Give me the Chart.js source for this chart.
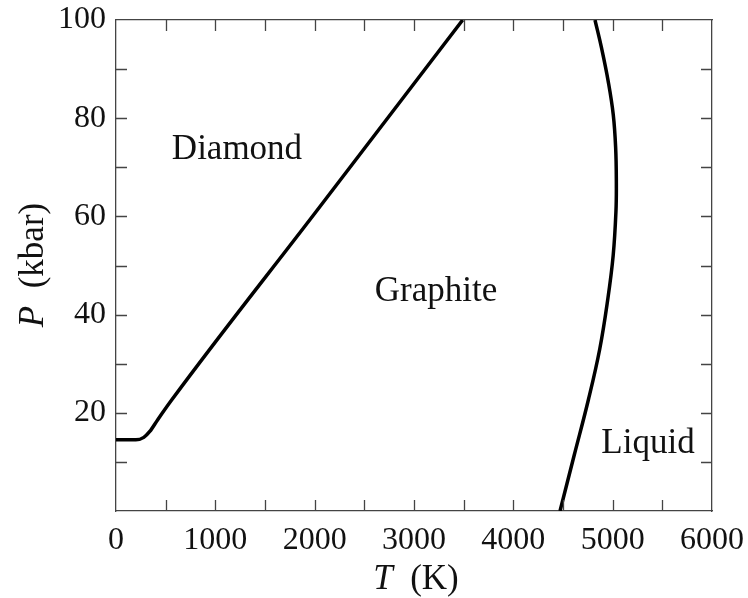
<!DOCTYPE html>
<html>
<head>
<meta charset="utf-8">
<script src="https://cdn.jsdelivr.net/npm/chart.js@4/dist/chart.umd.min.js"></script>
<style>
  html, body { margin: 0; padding: 0; background: #fff; }
  #wrap { width: 748px; height: 598px; }
</style>
</head>
<body>
<div id="wrap"><canvas id="phaseChart" width="748" height="598"></canvas></div>
<script>
// diamond / graphite boundary
const diamondT = [0, 200, 280, 340, 420, 560, 2000, 3490];
const diamondP = [14.5, 14.5, 15, 16.2, 18.6, 22.6, 60.6, 100];

// graphite / liquid boundary
const liquidT = [4470, 4612, 4755, 4870, 4950, 5005, 5033, 5037, 5030, 5006, 4956, 4889, 4822];
const liquidP = [0, 11.3, 22.6, 33, 43, 52, 61, 67, 74, 80.7, 87.4, 94.2, 100];

const xTicks = [0, 1000, 2000, 3000, 4000, 5000, 6000];
const yTicks = [20, 40, 60, 80, 100];

// region labels [text, T, P]
const regions = [
    ['Diamond', 1218, 73.5],
    ['Graphite', 3221, 44.6],
    ['Liquid', 5356, 13.7]
];

const serif = '"Liberation Serif", "Times New Roman", serif';
const ink = '#111';
const axisColor = '#444';

const toPoints = (xs, ys) => xs.map((x, i) => ({x: x, y: ys[i]}));

// kill the extra room chart.js keeps for overhanging tick labels
const fixSize = (w, h) => s => {
    if (w !== null) s.width = w;
    if (h !== null) s.height = h;
    s.paddingLeft = 0; s.paddingRight = 0;
    s.paddingTop = 0; s.paddingBottom = 0;
};

const decor = {
    id: 'decor',
    afterDraw(chart) {
        const ctx = chart.ctx;
        const a = chart.chartArea;
        const xs = chart.scales.x, ys = chart.scales.y;
        ctx.save();
        // inward ticks on all four sides
        ctx.strokeStyle = axisColor;
        ctx.lineWidth = 1.3;
        const tl = 11;
        ctx.beginPath();
        xs.ticks.forEach(t => {
            const px = Math.round(xs.getPixelForValue(t.value)) + 0.5;
            if (t.value <= 0 || t.value >= 6000) return;
            ctx.moveTo(px, a.bottom); ctx.lineTo(px, a.bottom - tl);
            ctx.moveTo(px, a.top); ctx.lineTo(px, a.top + tl);
        });
        ys.ticks.forEach(t => {
            const py = Math.round(ys.getPixelForValue(t.value)) + 0.5;
            if (t.value <= 0 || t.value >= 100) return;
            ctx.moveTo(a.left, py); ctx.lineTo(a.left + tl, py);
            ctx.moveTo(a.right, py); ctx.lineTo(a.right - tl, py);
        });
        ctx.stroke();

        // region labels
        ctx.fillStyle = ink;
        ctx.font = '35px ' + serif;
        ctx.textAlign = 'center';
        ctx.textBaseline = 'middle';
        regions.forEach(r => {
            ctx.fillText(r[0], xs.getPixelForValue(r[1]), ys.getPixelForValue(r[2]));
        });

        // axis titles with italic symbol
        const drawTitle = (sym, rest, cx, cy, rot) => {
            ctx.save();
            ctx.translate(cx, cy);
            ctx.rotate(rot);
            ctx.font = 'italic 35px ' + serif;
            const w1 = ctx.measureText(sym).width;
            ctx.font = '35px ' + serif;
            const w2 = ctx.measureText(rest).width;
            const x0 = -(w1 + w2) / 2;
            ctx.textAlign = 'left';
            ctx.textBaseline = 'middle';
            ctx.font = 'italic 35px ' + serif;
            ctx.fillText(sym, x0, 0);
            ctx.font = '35px ' + serif;
            ctx.fillText(rest, x0 + w1, 0);
            ctx.restore();
        };
        drawTitle('T', '  (K)', 416, 580, 0);
        drawTitle('P', '  (kbar)', 34, 265, -Math.PI / 2);
        ctx.restore();
    }
};

new Chart(document.getElementById('phaseChart'), {
    type: 'scatter',
    data: {
        datasets: [{
            label: 'Diamond-Graphite',
            data: toPoints(diamondT, diamondP),
            showLine: true,
            borderColor: '#000',
            borderWidth: 3.5,
            pointRadius: 0,
            cubicInterpolationMode: 'monotone'
        },
        {
            label: 'Graphite-Liquid',
            data: toPoints(liquidT, liquidP),
            showLine: true,
            borderColor: '#000',
            borderWidth: 3.5,
            pointRadius: 0,
            tension: 0.4
        }]
    },
    options: {
        responsive: false,
        animation: false,
        layout: { padding: 0 },
        plugins: {
            legend: { display: false },
            tooltip: { enabled: false }
        },
        scales: {
            x: {
                type: 'linear',
                position: 'bottom',
                min: 0,
                max: 6000,
                afterFit: fixSize(null, 87),
                grid: { display: false, drawTicks: false },
                border: { display: true, color: axisColor, width: 1.3 },
                ticks: {
                    stepSize: 500,
                    autoSkip: false,
                    maxRotation: 0,
                    padding: 10,
                    color: ink,
                    font: { family: serif, size: 32 },
                    callback: v => xTicks.includes(v) ? String(v) : ''
                }
            },
            x2: {
                type: 'linear',
                position: 'top',
                min: 0,
                max: 6000,
                afterFit: fixSize(null, 20),
                grid: { display: false, drawTicks: false },
                border: { display: true, color: axisColor, width: 1.3 },
                ticks: { display: false }
            },
            y: {
                type: 'linear',
                position: 'left',
                min: 0,
                max: 100,
                afterFit: fixSize(116, null),
                grid: { display: false, drawTicks: false },
                border: { display: true, color: axisColor, width: 1.3 },
                ticks: {
                    stepSize: 10,
                    autoSkip: false,
                    padding: 10,
                    color: ink,
                    font: { family: serif, size: 32 },
                    callback: v => yTicks.includes(v) ? String(v) : ''
                }
            },
            y2: {
                type: 'linear',
                position: 'right',
                min: 0,
                max: 100,
                afterFit: fixSize(36, null),
                grid: { display: false, drawTicks: false },
                border: { display: true, color: axisColor, width: 1.3 },
                ticks: { display: false }
            }
        }
    },
    plugins: [decor]
});
</script>
</body>
</html>
